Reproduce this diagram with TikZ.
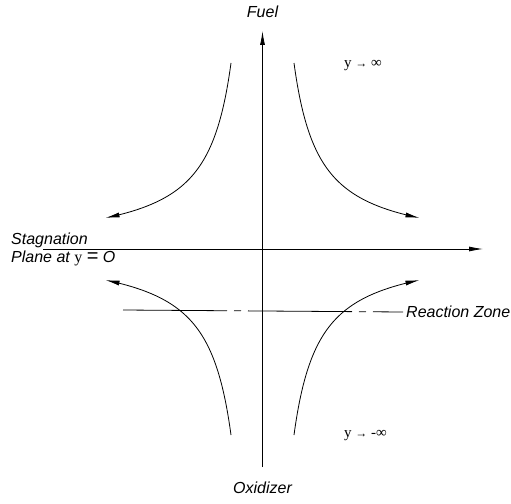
\documentclass[tikz,border=0pt]{standalone}
\usepackage{fontspec}
\setmainfont{Liberation Sans}
\newfontfamily\serifnum{Liberation Serif}
\usetikzlibrary{positioning, arrows.meta, calc}

\begin{document}
\begin{tikzpicture}[x=1pt, y=-1pt,
  axis/.style={line width=0.8pt, -{Latex[length=14pt,width=5pt]}},
  flow/.style={line width=0.8pt, -{Latex[length=14pt,width=5pt]}},
  lab/.style={font=\fontsize{16}{16}\selectfont\itshape, inner sep=0pt},
  lim/.style={font=\fontsize{15}{15}\selectfont\serifnum, inner sep=0pt}
]
\useasboundingbox (0,0) rectangle (511,503);
% axes
\coordinate (o)   at (262.5,249);
\coordinate (bot) at (262.5,467);
\coordinate (top) at (262.5,31);
\coordinate (lft) at (43,249);
\coordinate (rgt) at (483,249);
\draw[axis] (bot) -- (top);
\draw[axis] (lft) -- (rgt);
% labels
\node[lab] (fuel) at (262.5,12) {Fuel};
\node[lab] (oxid) at (262.5,488) {Oxidizer};
\node[lab, anchor=base west] (stag) at (11,244) {Stagnation};
\node[lab, anchor=base west] (plane) at (11,262)
  {Plane at {\upshape\serifnum y} {\upshape\fontsize{20}{20}\selectfont =} O};
\node[lim, anchor=west] (yplus)  at (344,66)  {y {\fontsize{12}{12}\selectfont→} ∞};
\node[lim, anchor=west] (yminus) at (344,436) {y {\fontsize{12}{12}\selectfont→} -∞};
\node[lab, anchor=west] (rz) at (406,312) {Reaction Zone};
% reaction zone
\coordinate (rz1) at (123,310);
\draw[line width=0.8pt, dash pattern=on 104pt off 7pt on 7pt off 7pt]
  (rz1) -- (rz.west -| 403,310);
% streamlines
\draw[flow] plot[domain=0:1, samples=60, smooth]
  ({268.8+4687/(186-155*\x)}, {249-(186-155*\x)});
\draw[flow] plot[domain=0:1, samples=60, smooth]
  ({256.2-4687/(186-155*\x)}, {249-(186-155*\x)});
\draw[flow] plot[domain=0:1, samples=60, smooth]
  ({268.8+4687/(186-155*\x)}, {249+(186-155*\x)});
\draw[flow] plot[domain=0:1, samples=60, smooth]
  ({256.2-4687/(186-155*\x)}, {249+(186-155*\x)});
\end{tikzpicture}
\end{document}
